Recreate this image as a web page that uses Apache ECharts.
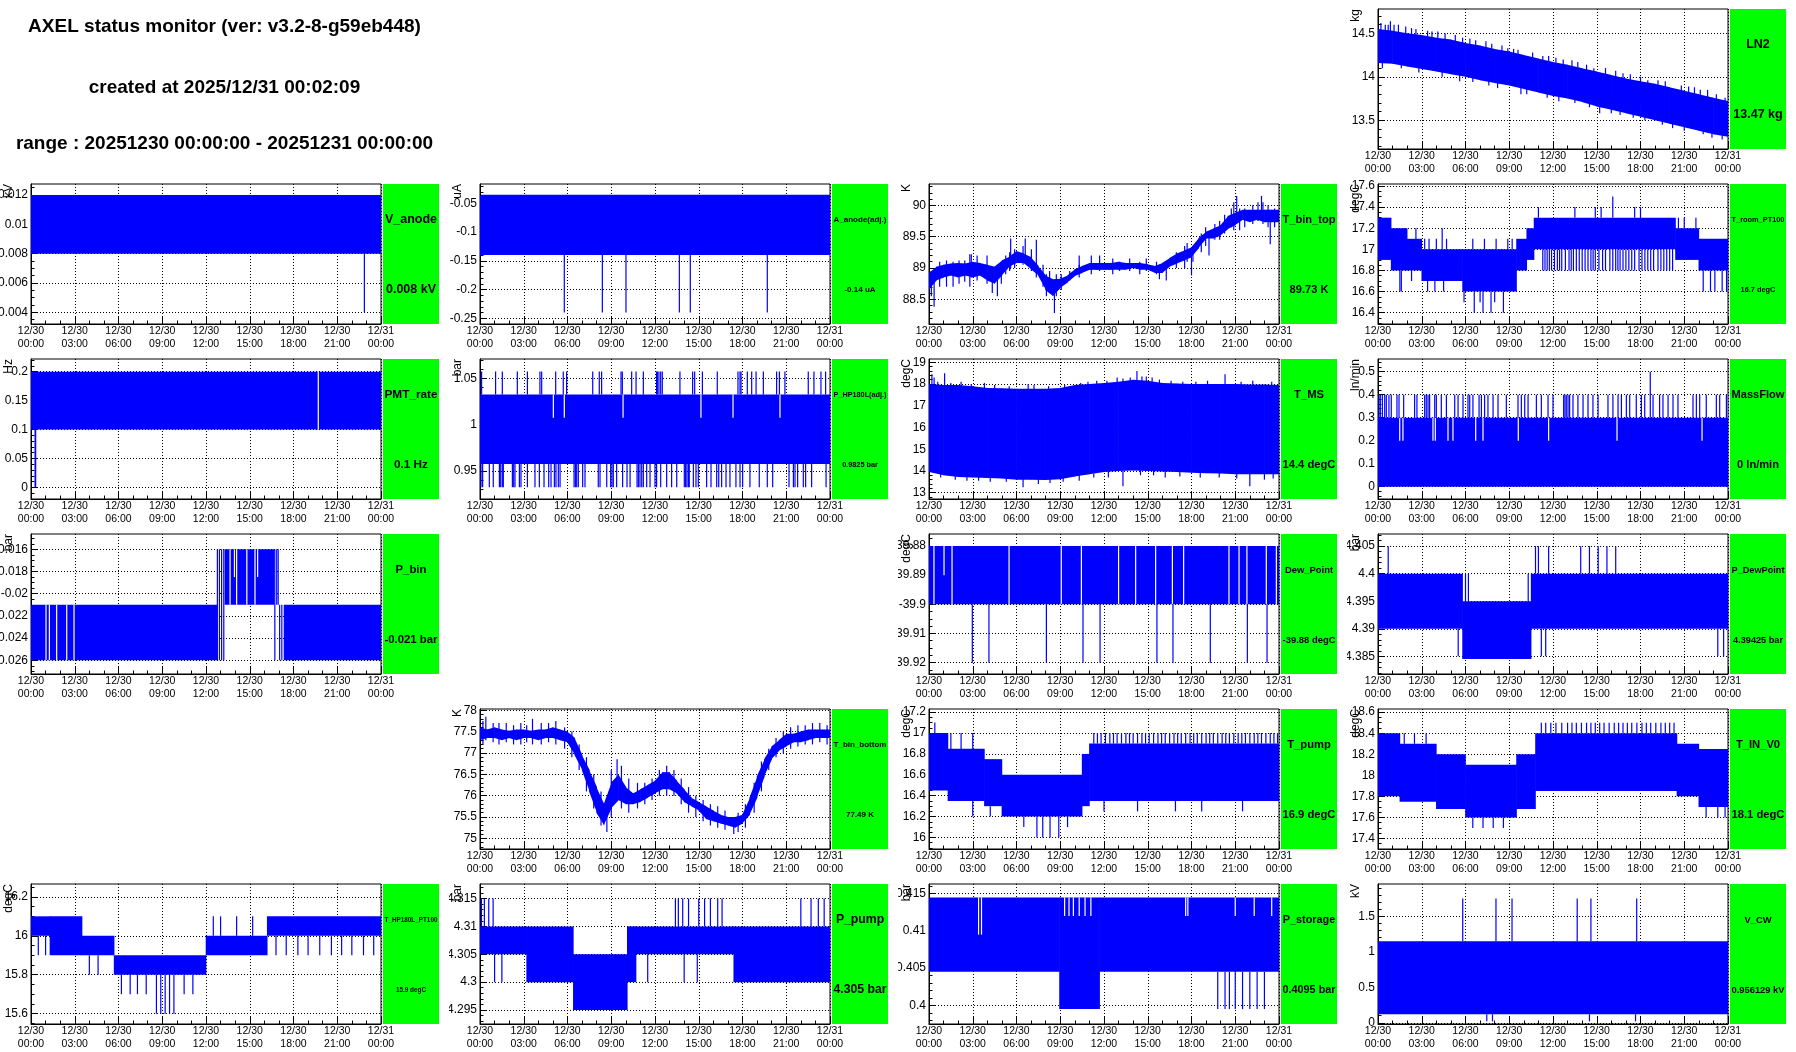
<!DOCTYPE html>
<html>
<head>
<meta charset="utf-8">
<script src="https://cdn.jsdelivr.net/npm/echarts@6/dist/echarts.min.js"></script>
<style>
  html, body { margin: 0; padding: 0; background: #fff; }
  #canvas { position: relative; width: 1796px; height: 1052px; overflow: hidden; }
  .pad { position: absolute; width: 449px; height: 175px; }
</style>
</head>
<body>
<div id="canvas"></div>
<script>
const FONT = '"Liberation Sans", Arial, Helvetica, sans-serif';

const headerLines = [
  'AXEL status monitor (ver: v3.2-8-g59eb448)',
  'created at 2025/12/31 00:02:09',
  'range : 20251230 00:00:00 - 20251231 00:00:00'
];

const xTickHours = [0, 3, 6, 9, 12, 15, 18, 21, 24];
const xTickLabels = ['12/30\n00:00', '12/30\n03:00', '12/30\n06:00', '12/30\n09:00', '12/30\n12:00',
  '12/30\n15:00', '12/30\n18:00', '12/30\n21:00', '12/31\n00:00'];

// band rows: [hour, low, high] ; spikes / gaps: [hour, low, high]
// axis: [min, max, minor step]

// LN2
const ln2Axis = [13.17, 14.78, 0.1];
const ln2Ticks = [13.5, 14, 14.5];
const ln2Band = [[0,14.16,14.55],[1,14.15,14.53],[2,14.12,14.5],[3,14.09,14.48],[4,14.06,14.45],[5,14.03,14.43],
  [6,14.0,14.39],[7,13.96,14.36],[8,13.93,14.32],[9,13.9,14.29],[10,13.86,14.25],[11,13.82,14.21],[12,13.78,14.17],
  [13,13.75,14.14],[14,13.71,14.1],[15,13.66,14.06],[16,13.62,14.02],[17,13.58,13.98],[18,13.54,13.95],[19,13.5,13.92],
  [20,13.46,13.88],[21,13.42,13.84],[22,13.38,13.8],[23,13.34,13.76],[24,13.31,13.72]];
const ln2Spikes = [[0.2,14.3,14.62],[0.5,14.3,14.6],[0.85,14.3,14.64],[1.4,14.3,14.6],[1.9,14.3,14.58],[4.1,14.2,14.52],
  [5.3,14.2,14.48],[8.5,14.0,14.36],[10.6,13.9,14.28],[11.3,13.9,14.24],[12.7,13.8,14.2],[14.8,13.8,14.1],[18.5,13.7,13.96],
  [20.8,13.6,13.9],[22.1,13.5,13.85],[23.2,13.5,13.8],[23.8,13.5,13.76],
  [0.7,14.3,14.6],[1.1,14.3,14.6],[2.3,14.25,14.56],[2.6,14.25,14.55],[3.4,14.2,14.53],[3.7,14.2,14.52],[4.6,14.2,14.5],
  [5.8,14.1,14.45],[6.3,14.1,14.44],[6.7,14.1,14.42],[7.4,14.1,14.41],[7.8,14.1,14.38],[8.9,14.0,14.33],[9.3,14.0,14.32],
  [9.6,14.0,14.31],[11.7,13.9,14.24],[12.2,13.9,14.22],[13.3,13.9,14.19],[13.7,13.9,14.17],[14.3,13.8,14.14],
  [15.6,13.8,14.1],[16.3,13.8,14.07],[16.8,13.7,14.04],[17.3,13.7,14.03],[18.0,13.7,14.0],[19.2,13.6,13.96],
  [19.7,13.6,13.95],[21.3,13.6,13.89],[21.7,13.5,13.88],[22.6,13.5,13.85],
  [0.3,14.1,14.3],[1.6,14.1,14.3],[2.8,14.05,14.3],[4.4,14.0,14.2],[6.5,13.94,14.1],[7.6,13.9,14.1],[8.2,13.87,14.1],
  [10.2,13.8,14.0],[11.6,13.76,14.0],[12.4,13.72,13.9],[13.5,13.7,13.9],[14.5,13.65,13.85],[16.0,13.58,13.8],
  [16.6,13.56,13.75],[18.3,13.5,13.7],[19.5,13.45,13.65],[21.0,13.38,13.6],[22.3,13.34,13.55],[22.9,13.3,13.5],
  [5.6,13.95,14.2],[9.8,13.8,14.0],[15.2,13.58,13.8],[17.5,13.53,13.7],[20.2,13.41,13.6],[23.6,13.28,13.5]];

// V_anode
const vAnodeAxis = [0.0032, 0.01275, 0.0005];
const vAnodeTicks = [0.004, 0.006, 0.008, 0.01, 0.012];
const vAnodeBand = [[0,0.008,0.012],[24]];
const vAnodeSpikes = [[22.86,0.004,0.008]];

// A_anode(adj.)
const aAnodeAxis = [-0.26, -0.0164, 0.01];
const aAnodeTicks = [-0.25, -0.2, -0.15, -0.1, -0.05];
const aAnodeBand = [[0,-0.14,-0.035],[24]];
const aAnodeSpikes = [[5.78,-0.24,-0.14],[8.39,-0.24,-0.14],[10.01,-0.24,-0.14],[13.67,-0.24,-0.14],[14.42,-0.24,-0.14],[19.7,-0.24,-0.14]];

// T_bin_top
const tBinTopAxis = [88.106, 90.34, 0.1];
const tBinTopTicks = [88.5, 89, 89.5, 90];
const tBinTopBand = [[0,88.65,88.92],[0.5,88.8,89.02],[1,88.85,89.05],[1.5,88.88,89.07],[2,88.85,89.08],[2.5,88.88,89.07],
  [3,88.85,89.1],[3.5,88.88,89.08],[4,88.8,89.05],[4.5,88.75,89.02],[5,88.88,89.12],[5.5,89.02,89.18],[6,89.08,89.27],
  [6.5,89.08,89.23],[7,88.98,89.17],[7.5,88.88,89.03],[8,88.65,88.88],[8.5,88.55,88.82],[9,88.68,88.83],[9.5,88.77,88.88],
  [10,88.87,88.98],[10.5,88.92,89.03],[11,88.97,89.08],[11.5,88.97,89.08],[12,88.97,89.08],[12.5,88.97,89.08],[13,88.97,89.1],
  [13.5,88.97,89.08],[14,89.0,89.08],[14.5,88.97,89.08],[15,88.97,89.06],[15.5,88.92,89.03],[16,88.92,89.08],[16.5,89.02,89.16],
  [17,89.07,89.23],[17.5,89.12,89.28],[18,89.17,89.33],[18.5,89.32,89.48],[19,89.47,89.58],[19.5,89.47,89.63],[20,89.52,89.68],
  [20.5,89.62,89.83],[21,89.68,89.88],[21.5,89.77,89.93],[22,89.73,89.93],[22.5,89.77,89.93],[23,89.73,89.93],[23.5,89.73,89.93],
  [24,89.73,89.93]];
const tBinTopSpikes = [[0.35,88.38,88.9],[2.8,88.7,89.22],[5.6,89.0,89.47],[6.6,89.1,89.47],[8.6,88.28,88.7],[10.3,88.9,89.2],
  [15.8,88.82,89.0],[17.7,89.1,89.4],[18.0,88.88,89.2],[19.2,89.2,89.55],[20.9,89.6,90.05],[21.1,89.8,90.15],
  [22.8,89.8,90.15],[23.4,89.38,89.8],
  [0.16,88.55,88.95],[0.73,88.7,89.1],[1.2,88.7,89.12],[1.65,88.7,89.1],[2.06,88.75,89.12],[2.45,88.78,89.12],
  [2.9,88.85,89.22],[3.3,88.8,89.2],[3.98,88.75,89.2],[4.34,88.6,89.0],[4.69,88.55,89.05],[4.96,88.75,89.1],
  [5.26,88.9,89.2],[5.53,88.95,89.25],[5.87,89.0,89.3],[6.45,89.05,89.35],[7.02,88.95,89.3],[7.36,88.85,89.45],
  [7.82,88.7,89.05],[8.05,88.55,88.9],[8.27,88.6,88.95],[8.73,88.55,88.9],[9.07,88.65,88.9],[9.65,88.8,88.95],
  [10.3,88.85,89.05],[11.13,88.9,89.2],[11.7,88.95,89.2],[12.6,88.9,89.15],[13.07,88.95,89.1],[13.76,88.95,89.15],
  [14.45,88.9,89.1],[14.9,88.95,89.15],[15.6,88.9,89.1],[16.27,88.8,89.05],[16.96,89.0,89.25],[17.53,89.0,89.35],
  [18.1,89.1,89.35],[18.67,89.25,89.55],[18.97,89.35,89.65],[19.6,89.45,89.7],[19.93,89.45,89.75],[20.27,89.55,89.85],
  [20.73,89.65,89.95],[21.3,89.6,89.95],[21.65,89.65,89.95],[22.2,89.7,90.0],[22.56,89.75,90.05],[22.9,89.7,90.05],
  [23.25,89.65,90.0],[23.7,89.65,89.95]];

// T_room_PT100
const tRoomAxis = [16.293, 17.619, 0.05];
const tRoomTicks = [16.4, 16.6, 16.8, 17, 17.2, 17.4, 17.6];
const tRoomBand = [[0,16.9,17.3],[0.9,16.8,17.2],[2,16.8,17.1],[3,16.7,17.0],[5.8,16.6,17.0],[9.5,16.8,17.1],
  [10.2,16.9,17.2],[10.7,17.0,17.3],[20.4,16.9,17.2],[22,16.8,17.1],[24]];
const tRoomLowHours = [11.3,11.45,11.6,11.75,11.9,12.1,12.3,12.45,12.6,12.85,13.1,13.25,13.4,13.6,13.8,14.0,14.2,14.4,14.6,
  14.75,14.9,15.15,15.4,15.6,15.9,16.1,16.3,16.45,16.6,16.8,17.0,17.2,17.4,17.6,17.9,18.1,18.3,18.5,18.7,18.9,19.2,19.4,
  19.6,19.8,20.0,20.2];
const tRoomSpikes = [[1.3,17.1,17.2],[1.8,17.1,17.2],[2.6,17.0,17.2],[4.4,17.0,17.2],
  [3.2,17.0,17.1],[3.5,17.0,17.1],[4.0,17.0,17.1],[4.7,17.0,17.1],[6.5,17.0,17.1],[7.3,17.0,17.1],[8.1,17.0,17.1],[8.9,17.0,17.1],[9.2,17.0,17.1],
  [1.5,16.6,16.8],[1.6,16.6,16.8],[2.3,16.7,16.8],[3.4,16.6,16.7],[3.9,16.6,16.7],[4.5,16.6,16.7],
  [5.9,16.5,16.6],[6.6,16.4,16.6],[7.0,16.5,16.6],[7.2,16.4,16.6],[7.75,16.4,16.6],[8.0,16.5,16.6],[8.6,16.4,16.6],
  [11.0,17.3,17.4],[13.5,17.3,17.4],[14.9,17.3,17.4],[15.3,17.3,17.4],[16.1,17.3,17.5],[17.6,17.3,17.4],[18.0,17.3,17.4],
  [20.6,17.2,17.3],[21.0,17.2,17.3],[21.8,17.2,17.3],
  [22.3,16.6,16.8],[22.8,16.6,16.8],[23.1,16.6,16.8],[23.6,16.6,16.8],[23.9,16.6,16.8]];

// PMT_rate
const pmtAxis = [-0.0202, 0.2219, 0.01];
const pmtTicks = [0, 0.05, 0.1, 0.15, 0.2];
const pmtBand = [[0,0.1,0.2],[24]];
const pmtGaps = [[19.7,0.1,0.2]];
const pmtSpikes = [[0.28,0,0.1],[0.32,0,0.1]];

// P_HP180L(adj.)
const pHpAxis = [0.9198, 1.0709, 0.01];
const pHpTicks = [0.95, 1, 1.05];
const pHpBand = [[0,0.9575,1.0325],[24]];
const pHpGaps = [[5.03,1.0075,1.0325],[5.78,1.0075,1.0325],[9.81,1.0075,1.0325],[15.15,1.0075,1.0325],[17.35,1.0075,1.0325],[20.57,1.0075,1.0325]];
const pHpUp = [0.11,1.07,1.53,2.56,3.25,4.11,4.23,5.19,5.71,5.94,7.73,8.18,8.34,9.67,9.76,10.4,10.7,11.2,12.11,12.16,
  12.27,12.39,12.5,13.71,14.58,14.72,15.25,16.27,17.69,17.83,17.9,18.33,18.63,18.93,19.43,20.34,20.53,20.91,22.51,22.9,23.38,23.7];
const pHpDown = [0.07,0.18,0.64,0.91,1.33,1.42,1.53,1.6,2.22,2.31,2.4,2.7,2.81,3.25,3.77,4.07,4.39,4.71,4.87,5.1,5.21,5.37,
  5.49,6.45,6.54,6.63,6.74,7.04,7.2,8.11,8.23,8.69,8.96,9.05,9.14,9.37,9.78,10.08,10.29,10.77,10.86,10.97,11.09,11.2,11.43,
  11.66,12.0,12.11,12.39,12.8,13.14,13.49,14.01,14.1,14.19,14.29,14.35,14.63,14.81,14.97,15.54,15.84,16.23,16.37,16.57,
  16.87,17.14,17.55,17.83,18.01,18.51,19.15,19.7,20.07,21.19,21.49,21.6,21.78,22.17,22.33,22.74,23.73];

// T_MS
const tMsAxis = [12.71, 19.15, 0.2];
const tMsTicks = [13, 14, 15, 16, 17, 18, 19];
const tMsBand = [[0,13.95,18.0],[1,13.8,17.95],[2,13.72,17.95],[3,13.7,17.9],[4,13.68,17.82],[5,13.65,17.8],[6,13.6,17.78],
  [7,13.6,17.78],[8,13.58,17.78],[9,13.62,17.82],[10,13.75,17.95],[11,13.85,18.0],[12,13.95,18.05],[13,14.0,18.1],
  [14,14.02,18.2],[15,14.0,18.15],[16,13.98,18.05],[17,13.95,18.02],[18,13.92,18.0],[19,13.9,18.0],[20,13.88,18.0],
  [21,13.85,18.0],[22,13.85,17.98],[23,13.85,17.98],[24,13.85,17.95]];
const tMsSpikes = [[0.2,17.9,18.45],[0.35,17.9,18.3],[1.07,17.9,18.5],[3.8,17.8,18.05],[6.8,17.7,18.0],[11.5,17.9,18.15],
  [12.9,18.0,18.3],[13.3,18.0,18.25],[14.26,18.1,18.6],[14.6,18.1,18.35],[15.3,18.05,18.3],[20.3,17.9,18.45],[22.2,17.9,18.15],
  [0.6,17.8,18.1],[1.5,17.8,18.05],[2.2,17.8,18.1],[2.9,17.8,18.0],[4.5,17.7,17.95],[5.5,17.7,17.9],[7.2,17.7,17.95],
  [8.2,17.7,17.9],[9.3,17.7,17.95],[10.4,17.8,18.05],[10.9,17.8,18.1],[12.2,17.9,18.15],[13.8,18.0,18.3],[14.9,18.0,18.35],
  [15.8,17.9,18.2],[16.6,17.9,18.15],[17.4,17.9,18.1],[18.3,17.9,18.1],[19.1,17.9,18.15],[21.4,17.9,18.1],[23.5,17.8,18.1],
  [0.8,13.7,14.0],[1.8,13.6,13.9],[2.6,13.55,13.8],[3.4,13.55,13.8],[4.2,13.5,13.8],[8.3,13.45,13.7],[9.2,13.5,13.7],
  [10.3,13.55,13.85],[11.3,13.7,13.9],[12.3,13.7,14.0],[14.5,13.8,14.1],[15.4,13.8,14.1],[17.2,13.75,14.0],[18.6,13.7,14.0],
  [19.9,13.7,13.95],[21.1,13.65,13.9],[23.6,13.65,13.9],
  [5.3,13.5,13.8],[6.45,13.25,13.7],[7.5,13.4,13.7],[13.3,13.3,14.0],[16.2,13.7,14.0],[22.0,13.3,13.9],[23.0,13.6,13.9]];

// MassFlow
const massAxis = [-0.0536, 0.555, 0.02];
const massTicks = [0, 0.1, 0.2, 0.3, 0.4, 0.5];
const massBand = [[0,0,0.3],[24]];
const massGaps = [[1.49,0.2,0.3],[1.71,0.2,0.3],[3.77,0.2,0.3],[3.93,0.2,0.3],[4.8,0.2,0.3],[5.14,0.2,0.3],[6.7,0.2,0.3],
  [7.2,0.2,0.3],[9.62,0.2,0.3],[11.7,0.2,0.3],[16.39,0.2,0.3],[22.22,0.2,0.3]];
const massUp = [0.07,0.16,0.3,0.46,0.57,0.75,0.91,1.3,1.44,1.76,2.51,2.67,3.2,3.31,3.43,3.54,3.89,4.0,4.34,4.69,5.26,5.49,
  5.83,6.17,6.29,6.51,6.93,7.09,7.31,7.54,7.89,8.23,8.8,9.6,9.83,10.06,10.29,10.86,11.2,11.66,12.0,12.73,12.82,12.91,13.03,
  13.14,13.37,13.71,14.06,14.4,14.74,15.09,15.77,16.11,16.46,16.69,17.03,17.26,17.71,18.06,18.29,18.86,19.31,19.54,19.89,
  20.23,20.57,21.6,21.83,22.06,22.51,23.2,23.43,23.89];
const massPeak = [[18.67,0.3,0.5]];

// P_bin
const pBinAxis = [-0.02723, -0.01462, 0.0005];
const pBinTicks = [-0.026, -0.024, -0.022, -0.02, -0.018, -0.016];
const pBinBand = [[0,-0.026,-0.021],[12.75],[13.3,-0.021,-0.016],[16.68],[17.35,-0.026,-0.021],[24]];
const pBinGaps = [[1.03,-0.026,-0.021],[1.26,-0.026,-0.021],[1.76,-0.026,-0.021],[2.45,-0.026,-0.021],[2.95,-0.026,-0.021],
  [13.65,-0.021,-0.016],[13.95,-0.0185,-0.016],[14.1,-0.021,-0.016],[14.8,-0.021,-0.016],[15.36,-0.021,-0.016],[15.54,-0.0185,-0.016]];
const pBinSpikes = [[12.78,-0.026,-0.016],[12.92,-0.026,-0.016],[13.07,-0.026,-0.016],[13.22,-0.026,-0.016],
  [16.72,-0.026,-0.016],[16.85,-0.021,-0.016],[16.95,-0.021,-0.016],[17.05,-0.026,-0.021],[17.2,-0.026,-0.021]];

// Dew_Point
const dewAxis = [-39.9239, -39.8759, 0.0025];
const dewTicks = [-39.92, -39.91, -39.9, -39.89, -39.88];
const dewBand = [[0,-39.9,-39.88],[24]];
const dewGaps = [[0.34,-39.9,-39.88],[1.03,-39.89,-39.88],[1.58,-39.9,-39.88],[5.49,-39.9,-39.88],[9.07,-39.9,-39.88],
  [10.45,-39.9,-39.88],[13.0,-39.9,-39.88],[14.17,-39.9,-39.88],[15.54,-39.9,-39.88],[16.69,-39.9,-39.88],
  [17.46,-39.9,-39.88],[20.57,-39.9,-39.88],[21.26,-39.9,-39.88],[21.8,-39.9,-39.88],[23.13,-39.9,-39.88],[23.82,-39.9,-39.88]];
const dewDown = [2.97,4.11,8.05,10.56,11.73,15.63,16.73,19.29,21.83,23.18];

// P_DewPoint
const pDewAxis = [4.3818, 4.4072, 0.001];
const pDewTicks = [4.385, 4.39, 4.395, 4.4, 4.405];
const pDewBand = [[0,4.39,4.4],[5.8,4.3845,4.395],[10.5,4.39,4.4],[24]];
const pDewSpikes = [[0.7,4.4,4.405],[10.8,4.4,4.405],[11.0,4.4,4.405],[11.7,4.4,4.405],[13.9,4.4,4.405],[14.5,4.4,4.405],
  [15.1,4.4,4.405],[15.7,4.4,4.405],[16.3,4.4,4.405],[5.5,4.385,4.39],[11.2,4.385,4.39],[11.5,4.385,4.39],
  [23.3,4.385,4.39],[23.7,4.385,4.39],[6.0,4.395,4.4],[6.2,4.395,4.4],[10.3,4.395,4.4]];

// T_bin_bottom
const tBinBotAxis = [74.75, 78.03, 0.1];
const tBinBotTicks = [75, 75.5, 76, 76.5, 77, 77.5, 78];
const tBinBotBand = [[0,77.3,77.6],[0.5,77.35,77.55],[1,77.35,77.6],[1.5,77.3,77.55],[2,77.35,77.52],[2.5,77.3,77.55],
  [3,77.35,77.55],[3.5,77.35,77.52],[4,77.3,77.55],[4.5,77.35,77.55],[5,77.35,77.6],[5.5,77.3,77.55],[6,77.25,77.5],
  [6.5,76.95,77.35],[7,76.6,76.95],[7.5,76.1,76.6],[8,75.6,76.2],[8.5,75.3,75.8],[9,75.7,76.3],[9.5,75.9,76.5],
  [10,75.8,76.2],[10.5,75.8,76.05],[11,75.85,76.15],[11.5,75.95,76.25],[12,76.05,76.35],[12.5,76.15,76.55],[13,76.15,76.55],
  [13.5,76.05,76.35],[14,75.85,76.15],[14.5,75.75,75.95],[15,75.65,75.85],[15.5,75.45,75.75],[16,75.4,75.65],[16.5,75.35,75.55],
  [17,75.3,75.5],[17.5,75.25,75.5],[18,75.35,75.55],[18.5,75.55,75.95],[19,75.95,76.45],[19.5,76.45,76.85],[20,76.85,77.15],
  [20.5,77.05,77.3],[21,77.15,77.45],[21.5,77.25,77.45],[22,77.25,77.5],[22.5,77.3,77.55],[23,77.35,77.55],[23.5,77.35,77.55],
  [24,77.35,77.55]];
const tBinBotSpikes = [[0.4,77.3,77.85],[3.6,77.2,77.8],[8.7,75.15,75.6],[9.4,76.0,76.85],[17.4,75.1,75.5],
  [0.2,77.2,77.75],[0.9,77.25,77.7],[1.3,77.2,77.7],[1.8,77.25,77.7],[2.3,77.2,77.65],[2.8,77.2,77.7],[3.2,77.25,77.65],
  [4.2,77.2,77.7],[4.7,77.25,77.7],[5.2,77.2,77.75],[5.8,77.1,77.6],[6.3,76.9,77.5],[6.8,76.6,77.2],[7.3,76.1,76.9],
  [7.8,75.7,76.5],[8.3,75.3,76.1],[9.0,75.5,76.6],[9.7,75.7,76.7],[10.2,75.6,76.4],[10.8,75.7,76.3],[11.3,75.8,76.3],
  [11.8,75.9,76.4],[12.3,76.0,76.6],[12.8,76.0,76.7],[13.3,76.0,76.6],[13.8,75.8,76.4],[14.3,75.6,76.2],[14.8,75.5,76.0],
  [15.3,75.4,75.9],[15.8,75.3,75.8],[16.3,75.25,75.75],[16.8,75.2,75.65],[17.7,75.15,75.6],[18.2,75.25,75.8],
  [18.8,75.6,76.3],[19.3,76.1,76.8],[19.8,76.6,77.1],[20.3,76.9,77.35],[20.8,77.0,77.5],[21.3,77.1,77.6],
  [21.8,77.15,77.65],[22.3,77.2,77.65],[22.8,77.2,77.7],[23.3,77.25,77.7],[23.8,77.2,77.65]];

// T_pump
const tPumpAxis = [15.89, 17.23, 0.05];
const tPumpTicks = [16, 16.2, 16.4, 16.6, 16.8, 17, 17.2];
const tPumpBand = [[0,16.45,17.0],[1.3,16.35,16.85],[3.8,16.3,16.75],[5,16.2,16.6],[10.5,16.3,16.8],[11,16.35,16.9],[24]];
const tPumpUpHours = [11.3,11.55,11.8,12.1,12.4,12.65,12.9,13.2,13.5,13.75,14.0,14.3,14.6,14.85,15.1,15.4,15.7,15.95,
  16.2,16.5,16.8,17.05,17.3,17.6,17.9,18.15,18.4,18.7,19.0,19.25,19.5,19.8,20.1,20.35,20.6,20.9,21.2,21.45,21.7,22.0,
  22.3,22.55,22.8,23.1,23.4,23.65,23.9];
const tPumpSpikes = [[0.4,16.9,17.1],[1.5,16.8,17.0],[2.2,16.8,17.0],[3.0,16.8,17.0],[3.0,16.2,16.4],[4.2,16.2,16.3],
  [6.5,16.1,16.2],[7.4,16.0,16.2],[7.8,16.0,16.2],[8.3,16.0,16.2],[8.9,16.0,16.2],[9.5,16.1,16.2],
  [12.0,16.25,16.35],[14.3,16.25,16.35],[16.9,16.25,16.35],[18.7,16.25,16.35],[21.5,16.25,16.35]];

// T_IN_V0
const tInAxis = [17.3, 18.63, 0.05];
const tInTicks = [17.4, 17.6, 17.8, 18, 18.2, 18.4, 18.6];
const tInBand = [[0,17.8,18.4],[1.5,17.75,18.3],[4,17.68,18.2],[6,17.6,18.1],[9.5,17.68,18.2],[10.8,17.85,18.4],
  [20.5,17.8,18.3],[22,17.7,18.25],[24]];
const tInUpHours = [11.2,11.5,11.85,12.2,12.6,13.0,13.3,13.6,13.95,14.3,14.6,14.9,15.2,15.5,15.85,16.2,16.5,16.8,17.1,
  17.4,17.75,18.1,18.4,18.7,19.05,19.4,19.7,20.0,20.3];
const tInSpikes = [[1.8,18.3,18.4],[2.5,18.3,18.4],[3.3,18.3,18.4],
  [6.5,17.5,17.6],[7.2,17.5,17.6],[7.9,17.5,17.6],[8.6,17.5,17.6],[22.5,17.6,17.7],[23.3,17.6,17.7],[23.8,17.6,17.7]];

// T_HP180L_PT100
const tHpAxis = [15.547, 16.266, 0.05];
const tHpTicks = [15.6, 15.8, 16, 16.2];
const tHpBand = [[0,16.0,16.1],[1.3,15.9,16.1],[3.5,15.9,16.0],[5.7,15.8,15.9],[12,15.9,16.0],[16.2,16.0,16.1],[24]];
const tHpSpikes = [[0.5,15.9,16.0],[1.0,15.9,16.0],[4.0,15.8,15.9],[4.6,15.8,15.9],
  [6.2,15.7,15.8],[6.8,15.7,15.8],[7.3,15.7,15.8],[7.9,15.7,15.8],[10.5,15.7,15.8],[11.1,15.7,15.8],
  [8.6,15.6,15.8],[8.9,15.6,15.8],[9.2,15.6,15.8],[9.5,15.6,15.8],[9.8,15.6,15.8],
  [12.5,16.0,16.1],[13.0,16.0,16.1],[14.1,16.0,16.1],[15.2,16.0,16.1],
  [16.8,15.9,16.0],[17.5,15.9,16.0],[18.3,15.9,16.0],[19.0,15.9,16.0],[19.8,15.9,16.0],[20.6,15.9,16.0],
  [21.3,15.9,16.0],[22.0,15.9,16.0],[22.8,15.9,16.0],[23.5,15.9,16.0]];

// P_pump
const pPumpAxis = [4.2925, 4.3176, 0.001];
const pPumpTicks = [4.295, 4.3, 4.305, 4.31, 4.315];
const pPumpBand = [[0,4.305,4.31],[3.2,4.3,4.31],[6.4,4.295,4.305],[10.1,4.3,4.31],[10.7,4.305,4.31],[17.4,4.3,4.31],[24]];
const pPumpSpikes = [[0.1,4.31,4.315],[0.3,4.31,4.315],[0.6,4.31,4.315],[0.9,4.31,4.315],[13.4,4.31,4.315],[13.6,4.31,4.315],
  [13.9,4.31,4.315],[14.3,4.31,4.315],[15.0,4.31,4.315],[15.4,4.31,4.315],[15.8,4.31,4.315],[16.3,4.31,4.315],[16.6,4.31,4.315],
  [22.0,4.31,4.315],[22.7,4.31,4.315],[23.2,4.31,4.315],[23.6,4.31,4.315],
  [1.0,4.3,4.305],[1.5,4.3,4.305],[11.5,4.3,4.305],[14.0,4.3,4.305],[14.9,4.3,4.305]];

// P_storage
const pStoAxis = [0.3975, 0.4163, 0.001];
const pStoTicks = [0.4, 0.405, 0.41, 0.415];
const pStoBand = [[0,0.4045,0.4145],[8.95,0.3995,0.4145],[11.7,0.4045,0.4145],[24]];
const pStoGaps = [[3.4,0.4095,0.4145],[3.6,0.4095,0.4145],[9.3,0.412,0.4145],[9.6,0.412,0.4145],[9.9,0.412,0.4145],
  [10.3,0.412,0.4145],[10.7,0.412,0.4145],[11.1,0.412,0.4145],[17.6,0.412,0.4145],[17.75,0.412,0.4145],
  [21.0,0.412,0.4145],[22.3,0.412,0.4145],[23.5,0.412,0.4145]];
const pStoSpikes = [[19.8,0.3995,0.4045],[20.3,0.3995,0.4045],[20.6,0.3995,0.4045],[21.0,0.3995,0.4045],[21.5,0.3995,0.4045],
  [22.0,0.3995,0.4045],[22.5,0.3995,0.4045],[23.0,0.3995,0.4045]];

// V_CW
const vCwAxis = [-0.017, 1.955, 0.1];
const vCwTicks = [0, 0.5, 1, 1.5];
const vCwBand = [[0,0.12,1.15],[24]];
const vCwSpikes = [[5.81,1.15,1.75],[8.09,1.15,1.75],[9.19,1.15,1.75],[13.66,1.15,1.75],[14.6,1.15,1.75],[17.74,1.15,1.75],
  [7.46,0.02,0.12],[7.85,0.02,0.12],[14.5,0.02,0.12],[17.66,0.02,0.12]];

function spikeRows(hours, lo, hi) { return hours.map(h => [h, lo, hi]); }

const panels = [
  { name: 'LN2', value: '13.47 kg', unit: 'kg', row: 0, col: 3, axis: ln2Axis, ticks: ln2Ticks, band: ln2Band, poly: true, spikes: ln2Spikes },
  { name: 'V_anode', value: '0.008 kV', unit: 'kV', row: 1, col: 0, axis: vAnodeAxis, ticks: vAnodeTicks, band: vAnodeBand, spikes: vAnodeSpikes },
  { name: 'A_anode(adj.)', value: '-0.14 uA', unit: 'uA', row: 1, col: 1, axis: aAnodeAxis, ticks: aAnodeTicks, band: aAnodeBand, spikes: aAnodeSpikes },
  { name: 'T_bin_top', value: '89.73 K', unit: 'K', row: 1, col: 2, axis: tBinTopAxis, ticks: tBinTopTicks, band: tBinTopBand, poly: true, spikes: tBinTopSpikes },
  { name: 'T_room_PT100', value: '16.7 degC', unit: 'degC', row: 1, col: 3, axis: tRoomAxis, ticks: tRoomTicks, band: tRoomBand,
    spikes: tRoomSpikes.concat(spikeRows(tRoomLowHours, 16.8, 17.0)) },
  { name: 'PMT_rate', value: '0.1 Hz', unit: 'Hz', row: 2, col: 0, axis: pmtAxis, ticks: pmtTicks, band: pmtBand, gaps: pmtGaps, spikes: pmtSpikes },
  { name: 'P_HP180L(adj.)', value: '0.9825 bar', unit: 'bar', row: 2, col: 1, axis: pHpAxis, ticks: pHpTicks, band: pHpBand, gaps: pHpGaps,
    spikes: spikeRows(pHpUp, 1.0325, 1.0575).concat(spikeRows(pHpDown, 0.9325, 0.9575)) },
  { name: 'T_MS', value: '14.4 degC', unit: 'degC', row: 2, col: 2, axis: tMsAxis, ticks: tMsTicks, band: tMsBand, poly: true, spikes: tMsSpikes },
  { name: 'MassFlow', value: '0 ln/min', unit: 'ln/min', row: 2, col: 3, axis: massAxis, ticks: massTicks, band: massBand, gaps: massGaps,
    spikes: spikeRows(massUp, 0.3, 0.4).concat(massPeak) },
  { name: 'P_bin', value: '-0.021 bar', unit: 'bar', row: 3, col: 0, axis: pBinAxis, ticks: pBinTicks, band: pBinBand, gaps: pBinGaps, spikes: pBinSpikes },
  { name: 'Dew_Point', value: '-39.88 degC', unit: 'degC', row: 3, col: 2, axis: dewAxis, ticks: dewTicks, band: dewBand, gaps: dewGaps,
    spikes: spikeRows(dewDown, -39.92, -39.9) },
  { name: 'P_DewPoint', value: '4.39425 bar', unit: 'bar', row: 3, col: 3, axis: pDewAxis, ticks: pDewTicks, band: pDewBand, spikes: pDewSpikes },
  { name: 'T_bin_bottom', value: '77.49 K', unit: 'K', row: 4, col: 1, axis: tBinBotAxis, ticks: tBinBotTicks, band: tBinBotBand, poly: true, spikes: tBinBotSpikes },
  { name: 'T_pump', value: '16.9 degC', unit: 'degC', row: 4, col: 2, axis: tPumpAxis, ticks: tPumpTicks, band: tPumpBand,
    spikes: tPumpSpikes.concat(spikeRows(tPumpUpHours, 16.9, 17.0)) },
  { name: 'T_IN_V0', value: '18.1 degC', unit: 'degC', row: 4, col: 3, axis: tInAxis, ticks: tInTicks, band: tInBand,
    spikes: tInSpikes.concat(spikeRows(tInUpHours, 18.4, 18.5)) },
  { name: 'T_HP180L_PT100', value: '15.9 degC', unit: 'degC', row: 5, col: 0, axis: tHpAxis, ticks: tHpTicks, band: tHpBand, spikes: tHpSpikes },
  { name: 'P_pump', value: '4.305 bar', unit: 'bar', row: 5, col: 1, axis: pPumpAxis, ticks: pPumpTicks, band: pPumpBand, spikes: pPumpSpikes },
  { name: 'P_storage', value: '0.4095 bar', unit: 'bar', row: 5, col: 2, axis: pStoAxis, ticks: pStoTicks, band: pStoBand, gaps: pStoGaps, spikes: pStoSpikes },
  { name: 'V_CW', value: '0.956129 kV', unit: 'kV', row: 5, col: 3, axis: vCwAxis, ticks: vCwTicks, band: vCwBand, spikes: vCwSpikes }
];

const PAD_W = 449, PAD_H = 175;
const PLOT = { left: 31, top: 9, width: 350, height: 140 };
const BOX = { x: 383, width: 56 };
const BLUE = '#0000ff', GREEN = '#00ff00';

const measure = document.createElement('canvas').getContext('2d');
function boxFontSize(a, b) {
  measure.font = 'bold 100px ' + FONT;
  const w = Math.max(measure.measureText(a).width, measure.measureText(b).width) / 100;
  return Math.min(12.5, 53 / w);
}

// [t0, t1, lo0, hi0, lo1, hi1, white]
function bandSegs(rows, poly) {
  const out = [];
  for (let i = 0; i < rows.length - 1; i++) {
    const r = rows[i], n = rows[i + 1];
    if (r[1] == null) continue;
    if (poly) out.push([r[0], n[0], r[1], r[2], n[1], n[2], 0]);
    else out.push([r[0], n[0], r[1], r[2], r[1], r[2], 0]);
  }
  return out;
}
function lineSegs(rows, white) {
  return (rows || []).map(r => [r[0], r[0], r[1], r[2], r[1], r[2], white ? 1 : 0]);
}

function renderMark(params, api) {
  const t0 = api.value(0), t1 = api.value(1);
  const a = api.coord([t0, api.value(3)]);
  const b = api.coord([t1, api.value(5)]);
  const c = api.coord([t1, api.value(4)]);
  const d = api.coord([t0, api.value(2)]);
  if (b[0] - a[0] < 1.2) {
    const m = (a[0] + b[0]) / 2;
    a[0] = d[0] = m - 0.6;
    b[0] = c[0] = m + 0.6;
  } else {
    a[0] -= 0.3; d[0] -= 0.3; b[0] += 0.3; c[0] += 0.3;
  }
  return {
    type: 'polygon',
    shape: { points: [a, b, c, d] },
    style: { fill: api.value(6) ? '#ffffff' : BLUE, stroke: null }
  };
}

function minorValues(axis, ticks) {
  const [mn, mx, step] = axis;
  const out = [];
  for (let k = Math.ceil(mn / step - 1e-9); k * step <= mx + 1e-12; k++) {
    const v = +(k * step).toFixed(8);
    if (!ticks.some(t => Math.abs(t - v) < step / 10)) out.push(v);
  }
  return out;
}

function boxText(text, y, size) {
  return { type: 'text', x: BOX.x + BOX.width / 2, y: y,
    style: { text: text, fontSize: size, fontWeight: 'bold', fontFamily: FONT, fill: '#000',
      textAlign: 'center', textVerticalAlign: 'middle', align: 'center', verticalAlign: 'middle' } };
}

function panelOption(p) {
  const size = boxFontSize(p.name, p.value);
  const data = bandSegs(p.band, p.poly).concat(lineSegs(p.gaps, true), lineSegs(p.spikes, false));
  return {
    animation: false,
    grid: { left: PLOT.left, top: PLOT.top, width: PLOT.width, height: PLOT.height, show: true,
      borderColor: '#000', borderWidth: 1, backgroundColor: '#fff', containLabel: false, outerBoundsMode: 'none' },
    xAxis: {
      type: 'value', min: 0, max: 24, interval: 3,
      axisLine: { show: true, onZero: false, lineStyle: { color: '#000', width: 1 } },
      axisTick: { inside: true, length: 7, lineStyle: { color: '#000' } },
      minorTick: { show: true, splitNumber: 3, length: 3.5, lineStyle: { color: '#000' } },
      axisLabel: { margin: 1, fontSize: 10.5, lineHeight: 12.5, color: '#000', fontFamily: FONT,
        formatter: v => xTickLabels[xTickHours.indexOf(Math.round(v))] },
      splitLine: { show: true, lineStyle: { color: '#000', width: 1, type: [1, 2] } }
    },
    yAxis: [{
      type: 'value', min: p.axis[0], max: p.axis[1], position: 'left',
      axisLine: { show: true, onZero: false, lineStyle: { color: '#000', width: 1 } },
      axisTick: { inside: true, length: 7, customValues: p.ticks, lineStyle: { color: '#000' } },
      axisLabel: { customValues: p.ticks, margin: 3, fontSize: 12, color: '#000', fontFamily: FONT,
        formatter: v => String(+(+v).toFixed(6)) },
      splitLine: { show: true, lineStyle: { color: '#000', width: 1, type: [1, 2] } }
    }, {
      type: 'value', min: p.axis[0], max: p.axis[1], position: 'left',
      axisLine: { show: false, onZero: false },
      axisLabel: { show: false },
      splitLine: { show: false },
      axisTick: { inside: true, length: 3.5, customValues: minorValues(p.axis, p.ticks), lineStyle: { color: '#000' } }
    }],
    series: [{
      type: 'custom', renderItem: renderMark, data: data, clip: true, silent: true,
      encode: { x: [0, 1], y: [2, 3, 4, 5] }
    }],
    graphic: [
      { type: 'rect', shape: { x: BOX.x, y: PLOT.top, width: BOX.width, height: PLOT.height }, style: { fill: GREEN } },
      boxText(p.name, PLOT.top + 36, size),
      boxText(p.value, PLOT.top + 106, size),
      { type: 'text', x: PLOT.left - 22, y: PLOT.top, rotation: Math.PI / 2,
        style: { text: p.unit, fontSize: 12, fontFamily: FONT, fill: '#000',
          textAlign: 'right', textVerticalAlign: 'middle', align: 'right', verticalAlign: 'middle' } }
    ]
  };
}

function makePad(row, col) {
  const div = document.createElement('div');
  div.className = 'pad';
  div.style.left = (col * PAD_W) + 'px';
  div.style.top = (row * PAD_H) + 'px';
  document.getElementById('canvas').appendChild(div);
  return echarts.init(div, null, { renderer: 'canvas' });
}

// header text pad
const header = makePad(0, 0);
header.setOption({
  animation: false,
  graphic: headerLines.map((t, i) => ({
    type: 'text', x: 224.5, y: [27, 88, 144][i],
    style: { text: t, fontSize: 19, fontWeight: 'bold', fontFamily: FONT, fill: '#000',
      textAlign: 'center', textVerticalAlign: 'middle', align: 'center', verticalAlign: 'middle' }
  }))
});

panels.forEach(p => {
  const chart = makePad(p.row, p.col);
  chart.setOption(panelOption(p));
});
</script>
</body>
</html>
